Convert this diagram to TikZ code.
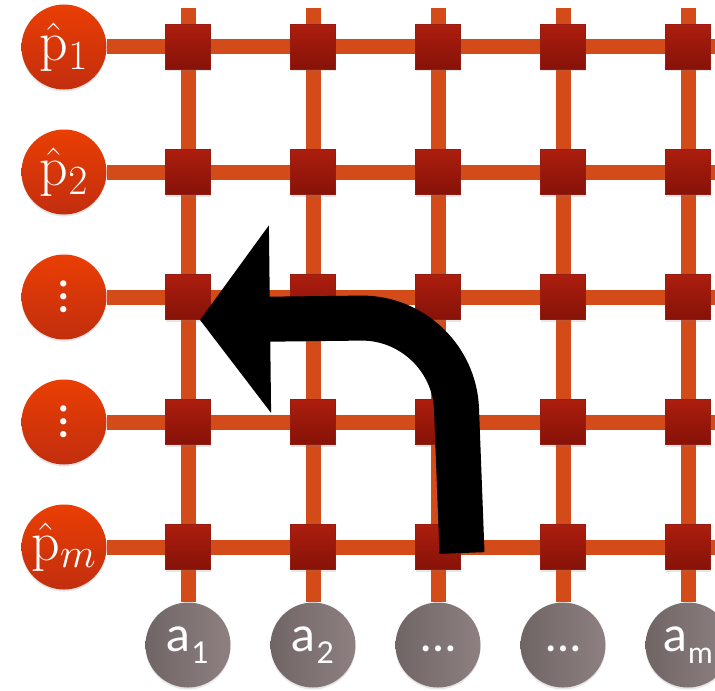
\documentclass[tikz,border=0pt]{standalone}
\usepackage{fontspec}
\setsansfont{Lato}
\usetikzlibrary{arrows.meta, positioning, shadows, backgrounds}
\definecolor{gridorange}{RGB}{210,75,25}
\definecolor{sqtop}{RGB}{172,30,14}
\definecolor{sqbot}{RGB}{134,18,8}
\definecolor{sqedge}{RGB}{150,28,18}
\definecolor{ptop}{RGB}{234,62,4}
\definecolor{pbot}{RGB}{194,46,14}
\definecolor{aleft}{RGB}{112,101,101}
\definecolor{aright}{RGB}{142,128,128}
\newcommand{\asub}[1]{a\kern0.5pt\raisebox{-6pt}{\fontsize{15}{15}\selectfont #1}}
\tikzset{
  wire/.style={line width=7.5pt, color=gridorange},
  cell/.style={rectangle, minimum size=22.5pt, inner sep=0pt,
    draw=sqedge, line width=0.4pt, top color=sqtop, bottom color=sqbot,
    drop shadow={shadow xshift=0pt, shadow yshift=-1pt, opacity=0.2}},
  pnode/.style={circle, minimum size=42.5pt, inner sep=0pt,
    top color=ptop, bottom color=pbot, text=white,
    drop shadow={shadow xshift=0pt, shadow yshift=-1pt, opacity=0.2},
    font=\fontsize{28}{32}\selectfont},
  anode/.style={circle, minimum size=42.5pt, inner sep=0pt,
    left color=aleft, right color=aright, text=white,
    drop shadow={shadow xshift=0pt, shadow yshift=-1pt, opacity=0.2},
    font=\sffamily\fontsize{24}{26}\selectfont},
  turn/.style={line width=22.5pt, color=black, -{Triangle[length=35pt, width=92pt]}}
}
\begin{document}
\begin{tikzpicture}[x=0.5pt, y=-0.5pt]
  \useasboundingbox (0,0) rectangle (715,690);

  % Row labels on the left
  \node[pnode] (p1) at (64,47) {$\hat{\mathrm{p}}_1$};
  \node[pnode] (p2) at (64,172) {$\hat{\mathrm{p}}_2$};
  \node[pnode] (pd1) at (64,297) {\sffamily\fontsize{25}{25}\selectfont\rotatebox{90}{\ldots}};
  \node[pnode] (pd2) at (64,422) {\sffamily\fontsize{25}{25}\selectfont\rotatebox{90}{\ldots}};
  \node[pnode] (pm) at (64,547) {$\hat{\mathrm{p}}_m$};

  % Column labels at the bottom
  \node[anode] (a1) at (188,645) {\asub{1}};
  \node[anode] (a2) at (313,645) {\asub{2}};
  \node[anode] (ad1) at (438,645) {\vphantom{\asub{1}}\ldots};
  \node[anode] (ad2) at (563,645) {\vphantom{\asub{1}}\ldots};
  \node[anode] (am) at (688,645) {\asub{m}};

  % Crossing cells
  \foreach \c [count=\i] in {188,313,438,563,688}
    \foreach \r [count=\j] in {47,172,297,422,547}
      \node[cell] (c\i\j) at (\c,\r) {};

  % Wires behind everything
  \coordinate (right) at (715,0);
  \coordinate (top) at (0,8);
  \begin{scope}[on background layer]
    \foreach \p in {p1,p2,pd1,pd2,pm}
      \draw[wire] (\p) -- (\p -| right);
    \foreach \a in {a1,a2,ad1,ad2,am}
      \draw[wire] (\a |- top) -- (\a);
  \end{scope}

  % Turning arrow
  \coordinate (tail) at (462,553);
  \coordinate (bend) at (453,317);
  \coordinate (tip) at (200,320);
  \draw[turn, rounded corners=46pt] (tail) -- (bend) -- (tip);
\end{tikzpicture}
\end{document}
